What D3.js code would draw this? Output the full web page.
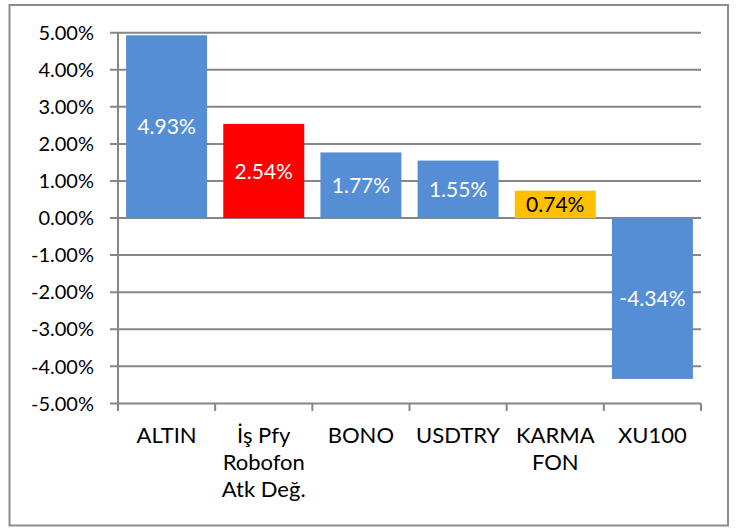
<!DOCTYPE html>
<html>
<head>
<meta charset="utf-8">
<script src="https://cdn.jsdelivr.net/npm/d3@7"></script>
<style>
  body { margin: 0; background: #fff; }
  text { font-family: Lato, "Open Sans", sans-serif; }
</style>
</head>
<body>
<div id="viz"></div>
<script>
// chart data
const CATEGORIES = [["ALTIN"], ["İş Pfy", "Robofon", "Atk Değ."], ["BONO"], ["USDTRY"], ["KARMA", "FON"], ["XU100"]];
const VALUES = [0.0493, 0.0254, 0.0177, 0.0155, 0.0074, -0.0434];
const BAR_COLORS = ["#558ed5", "#ff0000", "#558ed5", "#558ed5", "#ffc000", "#558ed5"];
const LABEL_COLORS = ["#fff", "#fff", "#fff", "#fff", "#000", "#fff"];
const Y_TICKS = [-0.05, -0.04, -0.03, -0.02, -0.01, 0, 0.01, 0.02, 0.03, 0.04, 0.05];

const W = 749, H = 531;
const GRID = "#868686";

const svg = d3.select("#viz").append("svg")
    .attr("width", W)
    .attr("height", H);

// outer frame
svg.append("rect")
    .attr("x", 9.5).attr("y", 5)
    .attr("width", 718.5).attr("height", 520.5)
    .attr("fill", "#fff")
    .attr("stroke", "#8c8c8c")
    .attr("stroke-width", 2);

const y = d3.scaleLinear().domain([-0.05, 0.05]).range([403.4, 32.7]);
const x = d3.scaleBand()
    .domain(d3.range(VALUES.length))
    .range([118, 701])
    .paddingInner(1 - 1 / 1.2)
    .paddingOuter((1 - 1 / 1.2) / 2);

// excel style percent, plain hyphen for negatives
const fmt = v => d3.format(".2%")(v).replace("\u2212", "-");

// gridlines with left ticks
svg.append("g").selectAll("line")
    .data(Y_TICKS)
    .enter()
    .append("line")
    .attr("x1", 110).attr("x2", 701)
    .attr("y1", d => y(d)).attr("y2", d => y(d))
    .attr("stroke", GRID)
    .attr("stroke-width", 2);

// y tick labels
svg.append("g").selectAll("text")
    .data(Y_TICKS)
    .enter()
    .append("text")
    .attr("x", 94)
    .attr("y", d => y(d))
    .attr("dy", "0.36em")
    .attr("text-anchor", "end")
    .attr("font-size", 20)
    .attr("fill", "#000")
    .text(d => fmt(d));

// bars
svg.append("g").selectAll("rect")
    .data(VALUES)
    .enter()
    .append("rect")
    .attr("x", (d, i) => x(i))
    .attr("y", d => y(Math.max(0, d)))
    .attr("width", x.bandwidth())
    .attr("height", d => Math.abs(y(d) - y(0)))
    .attr("fill", (d, i) => BAR_COLORS[i]);

// axes lines
svg.append("line")
    .attr("x1", 118).attr("x2", 118)
    .attr("y1", y(0.05)).attr("y2", 411)
    .attr("stroke", GRID).attr("stroke-width", 2);

const step = x.step();
svg.append("g").selectAll("line")
    .data(d3.range(VALUES.length))
    .enter()
    .append("line")
    .attr("x1", i => x(i) - x.paddingOuter() * step + step)
    .attr("x2", i => x(i) - x.paddingOuter() * step + step)
    .attr("y1", y(-0.05)).attr("y2", 411)
    .attr("stroke", GRID).attr("stroke-width", 2);

// data labels
svg.append("g").selectAll("text")
    .data(VALUES)
    .enter()
    .append("text")
    .attr("x", (d, i) => x(i) + x.bandwidth() / 2)
    .attr("y", d => (y(d) + y(0)) / 2)
    .attr("dy", "0.36em")
    .attr("text-anchor", "middle")
    .attr("font-size", 21)
    .attr("fill", (d, i) => LABEL_COLORS[i])
    .text(d => fmt(d));

// category labels
const cat = svg.append("g").selectAll("text")
    .data(CATEGORIES)
    .enter()
    .append("text")
    .attr("x", (d, i) => x(i) + x.bandwidth() / 2)
    .attr("y", 443)
    .attr("text-anchor", "middle")
    .attr("font-size", 22)
    .attr("fill", "#000");

cat.selectAll("tspan")
    .data(d => d)
    .enter()
    .append("tspan")
    .attr("x", function () { return d3.select(this.parentNode).attr("x"); })
    .attr("dy", (d, i) => i === 0 ? 0 : 27)
    .text(d => d);
</script>
</body>
</html>
